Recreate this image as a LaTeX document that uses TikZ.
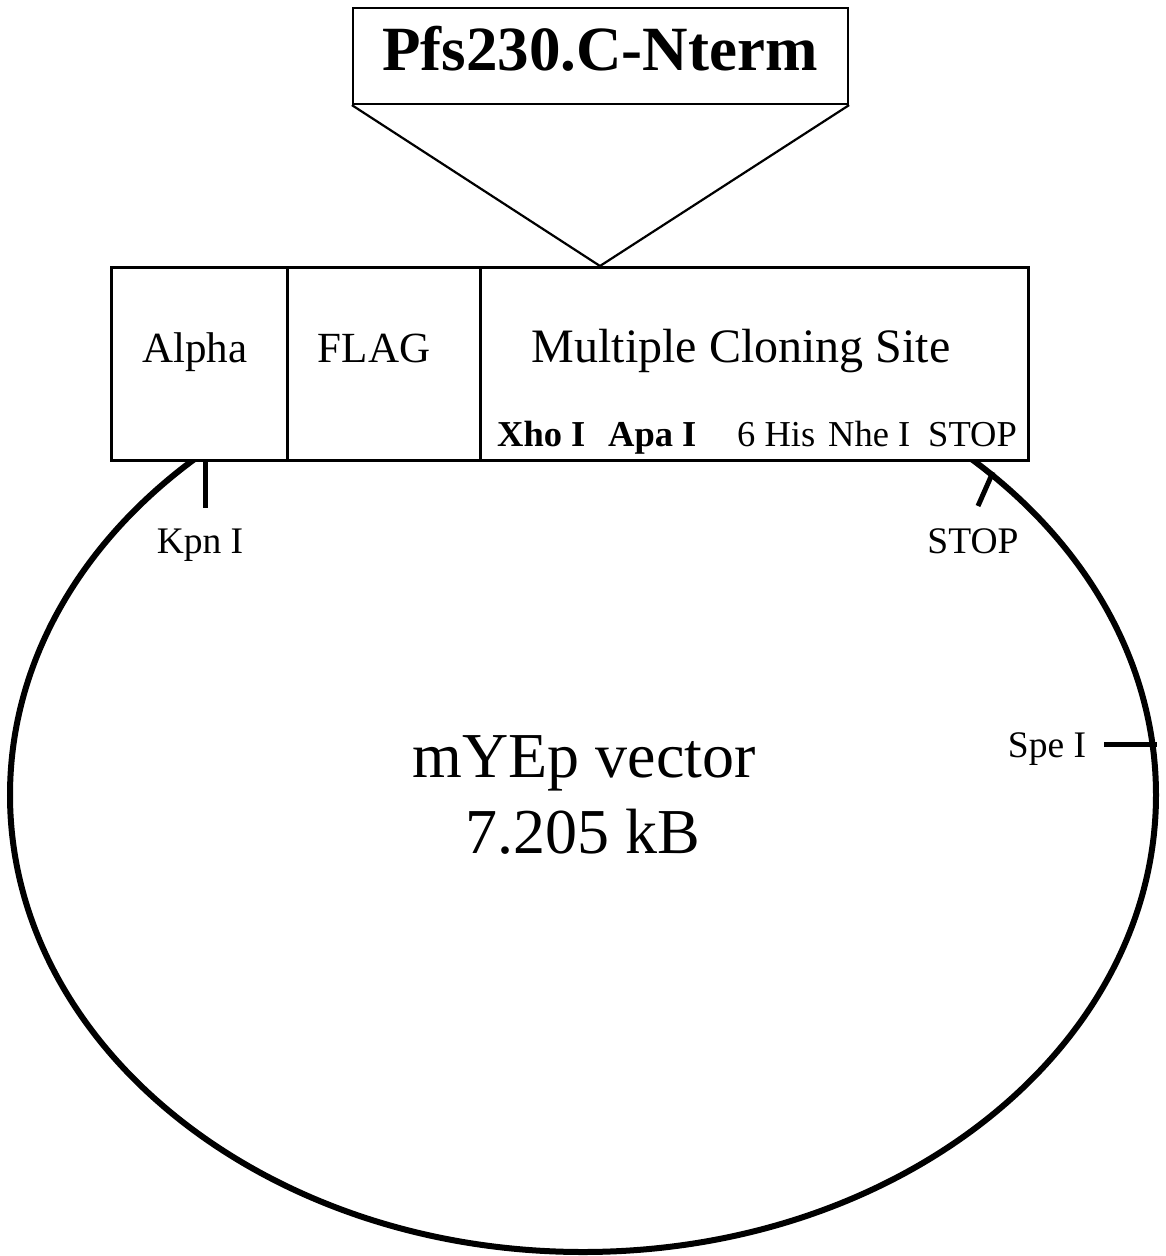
\documentclass[tikz,border=0pt]{standalone}
\usepackage{fontspec}
\setmainfont{Liberation Serif}
\begin{document}
\begin{tikzpicture}[x=1pt,y=-1pt,
  seg/.style={draw,line width=2.8pt,fill=white,minimum height=193pt,inner sep=0pt,anchor=north west},
  lbl/.style={inner sep=0pt,anchor=base},
  rowtxt/.style={inner sep=0pt,anchor=base west,font=\fontsize{36.5}{40}\selectfont},
  sitetxt/.style={inner sep=0pt,anchor=base,font=\fontsize{37.5}{42}\selectfont},
  tick/.style={line width=5pt},
  vec/.style={line width=6pt}]
\useasboundingbox (0,0) rectangle (1165,1256);
% vector circle
\coordinate (vc) at (583,795);
\draw[vec] (vc) ellipse [x radius=573pt, y radius=457pt];
% cassette
\node[seg,minimum width=176pt] (alpha) at (110,266) {};
\node[seg,minimum width=193pt] (flag) at (286,266) {};
\node[seg,minimum width=548pt] (mcs) at (479,266) {};
\node[lbl,font=\fontsize{43}{48}\selectfont] (alphat) at (195,362) {Alpha};
\node[lbl,font=\fontsize{43}{48}\selectfont] (flagt) at (374,362) {FLAG};
\node[lbl,font=\fontsize{48}{54}\selectfont] (mcst) at (741,362) {Multiple Cloning Site};
\node[rowtxt,font=\fontsize{36.5}{40}\selectfont\bfseries] (xho) at (497,446) {Xho I};
\node[rowtxt,font=\fontsize{36.5}{40}\selectfont\bfseries] (apa) at (608,446) {Apa I};
\node[rowtxt] (his) at (737,446) {6 His};
\node[rowtxt] (nhe) at (828,446) {Nhe I};
\node[rowtxt] (stopr) at (928,446) {STOP};
% insert
\node[draw,line width=2.2pt,fill=white,minimum width=495pt,minimum height=96pt,inner sep=0pt] (ins) at (600.5,56) {};
\node[lbl,font=\fontsize{63}{70}\selectfont\bfseries] (inst) at (600,70) {Pfs230.C-Nterm};
\coordinate (apex) at (600,266);
\draw[line width=2.2pt] (ins.south west) -- (apex) -- (ins.south east);
% sites
\coordinate (kpn0) at (205,459);
\coordinate (kpn1) at (205,508);
\draw[tick] (kpn0) -- (kpn1);
\node[sitetxt] (kpn) at (200,553) {Kpn I};
\coordinate (stp0) at (993,472);
\coordinate (stp1) at (978,506);
\draw[tick] (stp0) -- (stp1);
\node[sitetxt] (stp) at (973,553) {STOP};
\coordinate (spe0) at (1104,744);
\coordinate (spe1) at (1157,744);
\draw[tick] (spe0) -- (spe1);
\node[sitetxt] (spe) at (1047,757) {Spe I};
% center label
\node[lbl,font=\fontsize{64}{70}\selectfont] (vname) at (584,777) {mYEp vector};
\node[lbl,font=\fontsize{64}{70}\selectfont] (vsize) at (583,853) {7.205 kB};
\end{tikzpicture}
\end{document}
